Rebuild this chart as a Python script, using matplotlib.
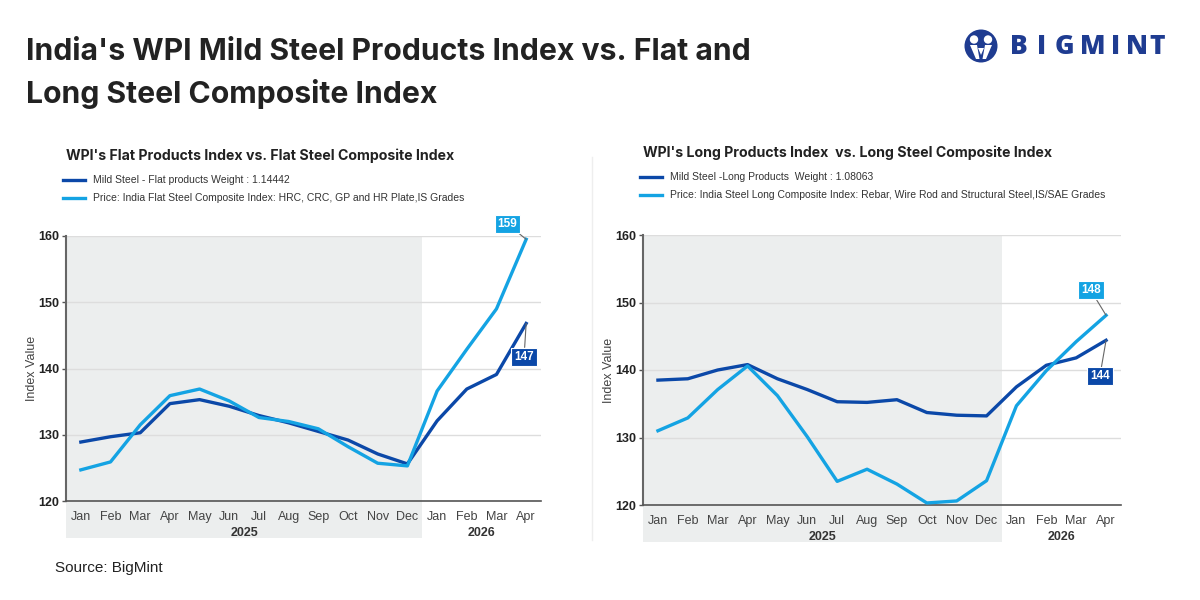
import matplotlib.pyplot as plt
from matplotlib.patches import Rectangle, Circle, Polygon
import matplotlib.transforms as mtransforms

plt.rcParams['font.family'] = ['Liberation Sans', 'DejaVu Sans']

months = ['Jan', 'Feb', 'Mar', 'Apr', 'May', 'Jun', 'Jul', 'Aug', 'Sep', 'Oct', 'Nov', 'Dec',
          'Jan', 'Feb', 'Mar', 'Apr']
years = ['2025', '2026']

flat_mild = [128.9, 129.7, 130.3, 134.7, 135.3, 134.3, 132.9, 131.8, 130.5, 129.2, 127.1, 125.6,
             132.1, 136.9, 139.1, 146.8]
flat_comp = [124.7, 125.9, 131.5, 135.9, 136.9, 135.1, 132.6, 132.0, 130.9, 128.2, 125.7, 125.3,
             136.6, 142.9, 149.0, 159.5]
long_mild = [138.5, 138.7, 140.0, 140.8, 138.7, 137.1, 135.3, 135.2, 135.6, 133.7, 133.3, 133.2,
             137.5, 140.7, 141.8, 144.4]
long_comp = [131.0, 132.9, 137.1, 140.6, 136.2, 130.1, 123.5, 125.3, 123.1, 120.3, 120.6, 123.6,
             134.7, 139.9, 144.2, 148.1]

DARK = '#0b48a8'
LIGHT = '#14a3e3'
BAND = '#eceeee'

fig = plt.figure(figsize=(12, 6), dpi=100)
fig.patch.set_facecolor('white')


def fx(px):
    return px / 1200


def fy(py):
    return 1 - py / 600


# main title
fig.text(fx(26), fy(52), "India's WPI Mild Steel Products Index vs. Flat and",
         fontsize=21.7, fontweight='bold', family=['Inter', 'DejaVu Sans'], color='#222222', va='center')
fig.text(fx(26), fy(94), "Long Steel Composite Index",
         fontsize=21.7, fontweight='bold', family=['Inter', 'DejaVu Sans'], color='#222222', va='center')

# logo
logo_blue = '#1f3c91'
lax = fig.add_axes([fx(961), fy(66), 40 / 1200, 40 / 600])
lax.set_xlim(-20, 20)
lax.set_ylim(-20, 20)
lax.set_aspect('equal')
lax.axis('off')
lax.add_patch(Circle((0, 0), 16.5, facecolor=logo_blue, edgecolor='none'))
lax.add_patch(Circle((-7, 6.5), 4.2, facecolor='white', edgecolor='none'))
lax.add_patch(Circle((7, 6.5), 4.2, facecolor='white', edgecolor='none'))
lax.add_patch(Polygon([(-11, 1), (-4, 1), (-1.5, -13), (-5, -13)], facecolor='white', edgecolor='none'))
lax.add_patch(Polygon([(11, 1), (4, 1), (1.5, -13), (5, -13)], facecolor='white', edgecolor='none'))
lax.add_patch(Polygon([(-3, -2), (3, -2), (0, -9)], facecolor='white', edgecolor='none'))
for ch, px in zip('BIGMINT', [1019, 1042, 1064, 1093, 1116, 1137, 1157]):
    fig.text(fx(px), fy(47), ch, fontsize=19, fontweight='heavy', family=['Open Sans', 'DejaVu Sans'],
             color=logo_blue, ha='center', va='center')

# separator
fig.lines.append(plt.Line2D([fx(592), fx(592)], [fy(157), fy(540)], transform=fig.transFigure,
                            color='#eeeeee', lw=1))

fig.text(fx(55), fy(568), 'Source: BigMint', fontsize=11, color='#222222', va='center')


def panel(rect, wpx, hpx, title, title_xy, leg_y, mild, comp, mild_lbl, comp_lbl, lab_mild, lab_comp,
          off_mild, off_comp):
    ax = fig.add_axes(rect)
    x = list(range(len(months)))
    ax.set_xlim(-0.5, 15.5)
    ax.set_ylim(120, 160)
    ax.axvspan(-0.5, 11.5, color=BAND, zorder=0, lw=0)
    trans = mtransforms.blended_transform_factory(ax.transData, ax.transAxes)
    depth = 37 / hpx
    ax.add_patch(Rectangle((-0.5, -depth), 12, depth, transform=trans, facecolor=BAND,
                           edgecolor='none', clip_on=False, zorder=0))
    ax.set_yticks([120, 130, 140, 150, 160])
    ax.grid(axis='y', color='#dddddd', lw=1)
    ax.set_axisbelow(True)
    ax.plot(x, mild, color=DARK, lw=2.4, zorder=3)
    ax.plot(x, comp, color=LIGHT, lw=2.4, zorder=3)
    ax.set_xticks(x)
    ax.set_xticklabels(months, fontsize=9, color='#444444')
    ax.tick_params(axis='x', length=0, pad=13.5)
    for t in ax.get_xticklabels():
        t.set_verticalalignment('baseline')
    ax.tick_params(axis='y', length=3, width=1, color='#555555', labelsize=9, labelcolor='#222222', pad=2)
    for t in ax.get_yticklabels():
        t.set_fontweight('bold')
    for s in ['top', 'right']:
        ax.spines[s].set_visible(False)
    ax.spines['left'].set_color('#666666')
    ax.spines['left'].set_linewidth(1.5)
    ax.spines['bottom'].set_color('#555555')
    ax.spines['bottom'].set_linewidth(1.2)
    ax.set_ylabel('Index Value', fontsize=9, color='#444444')
    ax.yaxis.set_label_coords(-28 / wpx, 0.5)
    for yr, xc in zip(years, [5.5, 13.5]):
        ax.text(xc, -32.5 / hpx, yr, transform=trans, ha='center', va='center', fontsize=9,
                fontweight='bold', color='#333333')

    for val, off, col in [(lab_comp, off_comp, LIGHT), (lab_mild, off_mild, DARK)]:
        yv = comp[-1] if col == LIGHT else mild[-1]
        ax.annotate(val, xy=(15, yv), xytext=off, textcoords='offset points', ha='center', va='center',
                    fontsize=8.5, fontweight='bold', color='white', zorder=5,
                    bbox=dict(boxstyle='square,pad=0.25', facecolor=col, edgecolor='white', lw=0.8),
                    arrowprops=dict(arrowstyle='-', color='#666666', lw=0.8, shrinkA=0, shrinkB=0))

    fig.text(fx(title_xy[0]), fy(title_xy[1]), title, fontsize=10.2, fontweight='bold',
             family=['Inter', 'DejaVu Sans'], color='#222222', va='center')
    lx = title_xy[0] - 3
    for i, (lbl, col) in enumerate([(mild_lbl, DARK), (comp_lbl, LIGHT)]):
        yy = leg_y + i * 18
        fig.lines.append(plt.Line2D([fx(lx), fx(lx + 22)], [fy(yy), fy(yy)], transform=fig.transFigure,
                                    color=col, lw=2.4))
        fig.text(fx(lx + 30), fy(yy), lbl, fontsize=7.5, color='#333333', va='center')
    return ax


panel([fx(66), fy(501), fx(541 - 66), 265 / 600], 475, 265,
      "WPI's Flat Products Index vs. Flat Steel Composite Index", (66, 156), 180,
      flat_mild, flat_comp,
      'Mild Steel - Flat products Weight : 1.14442',
      'Price: India Flat Steel Composite Index: HRC, CRC, GP and HR Plate,IS Grades',
      '147', '159', (-1.5, -24), (-13.5, 11))

panel([fx(643), fy(505), fx(1121 - 643), 270 / 600], 478, 270,
      "WPI's Long Products Index  vs. Long Steel Composite Index", (643, 153), 177,
      long_mild, long_comp,
      'Mild Steel -Long Products  Weight : 1.08063',
      'Price: India Steel Long Composite Index: Rebar, Wire Rod and Structural Steel,IS/SAE Grades',
      '144', '148', (-4.5, -26), (-11, 18))

fig.savefig('out.png', dpi=100, facecolor='white')
